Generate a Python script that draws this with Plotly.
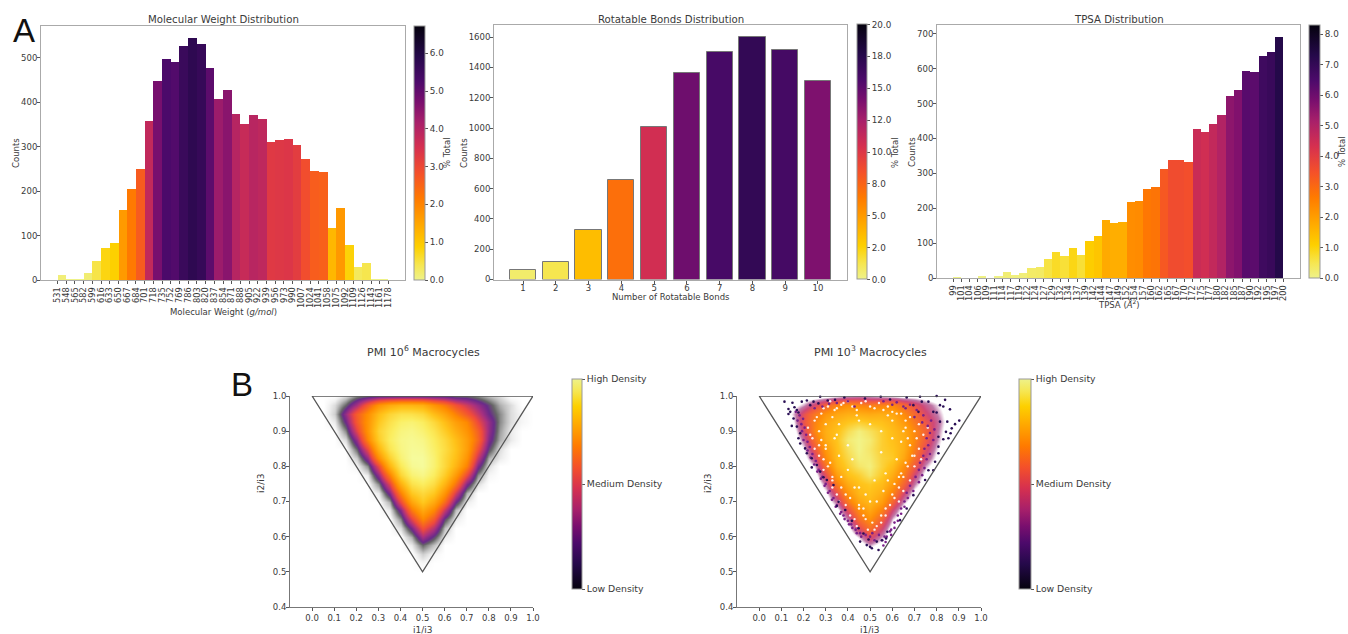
import plotly.graph_objects as go

W, H = 1348, 634
FONT = "DejaVu Sans"
INK = "#3a3a3a"

# ---------- Panel A data ----------
mw_labels = ["531","548","565","582","599","616","633","650","667","684","701","718","735","752","769","786","803","820","837","854","871","888","905","922","939","956","973","990","1007","1024","1041","1058","1075","1092","1109","1126","1143","1161","1178"]
mw_counts = [12,1,1,16,42,73,83,158,205,249,358,447,497,489,525,544,530,477,406,427,373,351,371,362,311,314,317,304,273,246,242,117,161,78,30,39,1,1]
mw_cbar_vals = [0,1,2,3,4,5,6]
mw_cbar_text = ["0.0","1.0","2.0","3.0","4.0","5.0","6.0"]

rb_labels = [1,2,3,4,5,6,7,8,9,10]
rb_counts = [60,115,325,655,1005,1365,1505,1600,1515,1310]
rb_cbar_vals = [0,2.5,5,7.5,10,12.5,15,17.5,20]
rb_cbar_text = ["0.0","2.0","5.0","8.0","10.0","12.0","15.0","18.0","20.0"]

tp_labels = ["99","101","104","106","109","111","114","117","119","122","124","127","129","132","134","137","139","142","144","147","149","152","154","157","160","162","165","167","170","172","175","177","180","182","185","187","190","192","195","197","200"]
tp_counts = [1,0,0,4,0,3,18,9,14,28,31,55,75,63,87,65,107,121,167,159,160,217,221,255,261,313,338,338,332,428,417,441,468,521,538,594,590,637,649,690]
tp_cbar_vals = [0,1,2,3,4,5,6,7,8]
tp_cbar_text = ["0.0","1.0","2.0","3.0","4.0","5.0","6.0","7.0","8.0"]

# ---------- Panel B data (density, 0-100) ----------
grid_x = [0,.05,.1,.15,.2,.25,.3,.35,.4,.45,.5,.55,.6,.65,.7,.75,.8,.85,.9,.95,1]
grid_y = [1,.975,.95,.925,.9,.875,.85,.825,.8,.775,.75,.725,.7,.675,.65,.625,.6,.575,.55,.525,.5]

dens_1e6 = [
 [0,0,0,3,8,10,12,12,12,12,12,12,12,10,10,8,5,3,0,0,0],
 [0,0,3,10,20,35,50,58,62,62,60,50,42,32,25,18,12,6,3,0,0],
 [0,0,4,18,35,48,65,76,82,82,78,66,56,44,34,24,14,8,3,1,0],
 [0,0,2,14,34,50,70,82,90,92,88,78,66,54,46,30,18,8,3,1,0],
 [0,0,0,8,28,50,75,86,94,96,92,84,72,60,50,36,18,7,2,0,0],
 [0,0,0,3,18,45,72,88,96,98,96,88,78,66,54,38,16,6,2,0,0],
 [0,0,0,0,10,30,62,84,95,99,98,90,80,68,54,32,12,3,0,0,0],
 [0,0,0,0,4,18,48,74,92,100,100,92,78,66,50,24,6,2,0,0,0],
 [0,0,0,0,1,8,30,62,86,98,100,92,78,62,44,16,3,0,0,0,0],
 [0,0,0,0,0,2,18,44,76,92,96,88,72,52,30,8,1,0,0,0,0],
 [0,0,0,0,0,0,8,28,60,82,88,80,62,40,16,3,0,0,0,0,0],
 [0,0,0,0,0,0,2,16,44,70,78,70,50,26,6,0,0,0,0,0,0],
 [0,0,0,0,0,0,0,6,30,56,70,58,38,14,2,0,0,0,0,0,0],
 [0,0,0,0,0,0,0,2,16,42,58,46,24,5,0,0,0,0,0,0,0],
 [0,0,0,0,0,0,0,0,8,28,46,34,12,2,0,0,0,0,0,0,0],
 [0,0,0,0,0,0,0,0,3,15,32,22,5,0,0,0,0,0,0,0,0],
 [0,0,0,0,0,0,0,0,0,6,20,12,2,0,0,0,0,0,0,0,0],
 [0,0,0,0,0,0,0,0,0,2,10,5,0,0,0,0,0,0,0,0,0],
 [0,0,0,0,0,0,0,0,0,0,4,1,0,0,0,0,0,0,0,0,0],
 [0,0,0,0,0,0,0,0,0,0,1,0,0,0,0,0,0,0,0,0,0],
 [0,0,0,0,0,0,0,0,0,0,0,0,0,0,0,0,0,0,0,0,0],
]
dens_1e3 = [
 [0,0,0,0,2,4,6,8,12,14,12,10,8,6,6,4,2,0,0,0,0],
 [0,0,0,6,14,26,38,50,56,52,48,50,52,40,30,20,12,4,0,0,0],
 [0,0,0,12,30,46,58,66,70,70,68,70,66,54,40,26,16,6,0,0,0],
 [0,0,0,8,32,50,66,74,80,84,80,78,72,60,46,32,20,6,0,0,0],
 [0,0,0,4,26,52,70,78,90,98,92,84,76,68,52,38,18,4,0,0,0],
 [0,0,0,0,18,44,68,80,96,100,96,84,78,70,52,34,16,2,0,0,0],
 [0,0,0,0,10,34,60,78,92,100,94,84,80,70,48,28,12,0,0,0,0],
 [0,0,0,0,5,24,54,76,88,98,96,86,82,66,42,22,8,0,0,0,0],
 [0,0,0,0,0,12,44,72,84,94,98,86,76,56,34,14,3,0,0,0,0],
 [0,0,0,0,0,5,30,62,78,84,94,82,68,48,24,6,0,0,0,0,0],
 [0,0,0,0,0,0,18,48,68,78,82,76,60,38,16,2,0,0,0,0,0],
 [0,0,0,0,0,0,8,32,58,74,78,70,50,26,6,0,0,0,0,0,0],
 [0,0,0,0,0,0,2,18,46,66,74,62,38,14,0,0,0,0,0,0,0],
 [0,0,0,0,0,0,0,6,30,54,66,50,24,4,0,0,0,0,0,0,0],
 [0,0,0,0,0,0,0,0,16,42,56,38,12,0,0,0,0,0,0,0,0],
 [0,0,0,0,0,0,0,0,6,28,44,26,4,0,0,0,0,0,0,0,0],
 [0,0,0,0,0,0,0,0,0,12,28,14,0,0,0,0,0,0,0,0,0],
 [0,0,0,0,0,0,0,0,0,3,14,6,0,0,0,0,0,0,0,0,0],
 [0,0,0,0,0,0,0,0,0,0,3,0,0,0,0,0,0,0,0,0,0],
 [0,0,0,0,0,0,0,0,0,0,0,0,0,0,0,0,0,0,0,0,0],
 [0,0,0,0,0,0,0,0,0,0,0,0,0,0,0,0,0,0,0,0,0],
]
# isolated outlying points of the 10^3 set
fringe_x = [.114,.150,.132,.140,.132,.155,.192,.215,.245,.275,.177,.170,.185,.177,.185,.207,.215,.237,.260,.237,.275,.290,.305,.335,.159,.170,.147,.230,.267,.309,.342,.384,.477,
            .548,.59,.665,.725,.80,.838,.815,.86,.83,.785,.763,.733,.902,.883,.848,.815,.868,.842,.863,.853,.83,.808,.808,.808,.793,.785,.763,.748,.80,.718,.695,
            .358,.35,.388,.418,.455,.493,.485,.50,.508,.538,.553,.572,.53,.578,.695,.665,.635,.448,.47]
fringe_y = [.984,.981,.963,.955,.949,.936,.984,.987,.984,.998,.953,.913,.894,.880,.865,.851,.837,.823,.804,.797,.785,.769,.761,.747,.968,.960,.915,.974,.979,.987,.989,.996,.993,
            .998,.99,.996,.998,1.0,.989,.974,.962,.970,.955,.984,.984,.930,.920,.927,.927,.908,.898,.894,.880,.877,.884,.856,.837,.813,.789,.789,.761,.953,.955,.974,
            .699,.687,.676,.645,.586,.592,.576,.571,.567,.562,.590,.595,.586,.614,.718,.680,.647,.624,.609]
# purple points on the rim of the 10^3 set
rim_x = [.165,.182,.173,.198,.19,.205,.193,.212,.2,.218,.228,.218,.24,.232,.255,.248,.268,.262,.285,.278,.3,.295,.318,.31,.335,.328,.35,.345,.37,.365,.385,.38,.405,.4,.42,.415,.44,.435,.46,.455,.48,.5,.52,.51,
         .25,.285,.315,.35,.4,.43,.56,.6,.62,.65,.68,.71,.74,.66,.7,.735,
         .775,.76,.79,.77,.755,.785,.762,.745,.77,.74,.755,.725,.745,.72,.735,.705,.72,.68,.695,.665,.67,.655,.655,.64,.64,.625,.625,.61,.61,.595,.595,.575,.59,.565,.57,.555,.56,.54]
rim_y = [.955,.945,.93,.935,.92,.91,.9,.89,.875,.87,.855,.845,.835,.825,.815,.805,.79,.785,.77,.765,.75,.745,.73,.725,.71,.705,.69,.685,.67,.665,.65,.66,.635,.645,.625,.635,.61,.62,.6,.61,.605,.6,.59,.61,
         .965,.97,.978,.98,.985,.97,.985,.975,.982,.97,.975,.96,.945,.965,.94,.925,
         .93,.915,.905,.895,.88,.875,.86,.85,.835,.83,.82,.81,.795,.79,.775,.77,.755,.745,.73,.725,.71,.7,.685,.68,.665,.66,.645,.64,.625,.62,.605,.6,.615,.6,.585,.59,.575,.605]
# white specks between the points of the 10^3 set
gap_x = [.25,.28,.31,.34,.37,.24,.27,.3,.33,.27,.3,.34,.29,.32,.36,.33,.37,.4,.36,.39,.43,.41,.45,.44,.48,.52,.47,.5,.55,.53,.57,.56,.6,.63,.58,.61,.65,.64,.68,.62,.66,.7,.6,.64,.68,.72,.7,.66,.62,.58,.54,.5,.46,.42,.38,.35,.45,.5,.55,.6,.65,.4,.45,.52,.57,.42,.48,.55,.3,.33,.63,.67,
         .22,.26,.29,.32,.35,.4,.44,.48,.52,.56,.6,.64,.68,.72,.74,.76,.71,.69,.67,.65,.63,.61,.59,.57,.55,.53,.51,.49,.47,.45,.43,.41,.39,.37,.35,.33,.31,.29,.27,.25,.23,.28,.36,.44,.58,.66,.7,.73]
gap_y = [.93,.95,.97,.96,.975,.88,.9,.92,.94,.83,.85,.88,.79,.81,.83,.74,.77,.79,.7,.72,.74,.66,.69,.63,.65,.62,.68,.7,.66,.7,.68,.73,.72,.7,.76,.75,.73,.78,.76,.82,.81,.8,.88,.87,.86,.85,.9,.93,.95,.97,.98,.97,.98,.97,.98,.89,.93,.92,.9,.93,.9,.86,.74,.76,.78,.82,.72,.84,.86,.76,.77,.88,
         .91,.94,.965,.985,.965,.985,.96,.985,.965,.96,.955,.95,.94,.92,.89,.91,.88,.83,.8,.77,.74,.71,.69,.66,.64,.63,.64,.62,.66,.68,.65,.71,.69,.74,.72,.77,.8,.82,.86,.85,.89,.875,.92,.945,.945,.91,.83,.82]

tri_x = [0,0.5,1,0]
tri_y = [1,0.5,1,1]
pmi_ticks_x = [0,.1,.2,.3,.4,.5,.6,.7,.8,.9,1]
pmi_ticks_y = [.4,.5,.6,.7,.8,.9,1]
dens_ticks = [0,50,100]
dens_text = ["Low Density","Medium Density","High Density"]

# colour ramp as it appears on the reference colour bars, pale (0) to black (1)
ramp = [[0,"#eef28a"],[.06,"#f6e650"],[.13,"#fdd000"],[.2,"#ffb000"],[.32,"#ff7a00"],[.42,"#f4502a"],[.52,"#d6304f"],
        [.62,"#a8206a"],[.7,"#7a0f6e"],[.78,"#4d0a6b"],[.88,"#25094a"],[1,"#05020e"]]
ramp_up = [[round(1 - t, 3), c] for t, c in reversed(ramp)]

scale_1e6 = [[0,"#ffffff"],[.015,"#f2f2f2"],[.05,"#c0c0c0"],[.1,"#666666"],[.135,"#6a2a8a"],[.2,"#a83080"],[.3,"#f04a3c"],[.46,"#ff8a00"],[.68,"#ffc41a"],[.88,"#fbee60"],[1,"#f6fb9c"]]
scale_1e3 = [[0,"#ffffff"],[.1,"#ffffff"],[.16,"#c078a8"],[.24,"#d04878"],[.34,"#f25a40"],[.55,"#ff8f08"],[.8,"#ffc51c"],[1,"#f2f488"]]

# ---------- helpers ----------
def fx(p): return p / W
def fy(p): return 1 - p / H
def pct(vals):
    t = sum(vals)
    return [100 * v / t for v in vals]

fig = go.Figure()
tick = dict(family=FONT, size=8.5, color=INK)
xrot = dict(family=FONT, size=8.2, color=INK)

def cbar(x0, x1, y0, y1, vals, text, size=8.8):
    return dict(x=fx(x0), xanchor="left", xref="paper", y=fy(y1), yanchor="bottom", yref="paper",
                len=(y1 - y0) / H, lenmode="fraction", thickness=x1 - x0, thicknessmode="pixels",
                xpad=0, ypad=0, outlinecolor="#999", outlinewidth=1, ticks="outside", ticklen=3,
                tickcolor="#555", tickvals=vals, ticktext=text, tickfont=dict(family=FONT, size=size, color=INK))

def axes(n, x0, x1, y0, y1, xr, yr, xt, yt, line, mirror, xang=None, ydt=None, xfont=tick, xstand=0):
    s = "" if n == 1 else str(n)
    fig.layout["xaxis" + s] = dict(domain=[fx(x0), fx(x1)], range=xr, anchor="y" + s, showgrid=False, zeroline=False,
        showline=True, linecolor=line, linewidth=1, mirror=mirror, ticks="outside", ticklen=3, tickcolor="#555",
        tickmode="array", tickvals=xt[0], ticktext=xt[1], tickangle=xang, tickfont=xfont, ticklabelstandoff=xstand)
    fig.layout["yaxis" + s] = dict(domain=[fy(y1), fy(y0)], range=yr, anchor="x" + s, showgrid=False, zeroline=False,
        showline=True, linecolor=line, linewidth=1, mirror=mirror, ticks="outside", ticklen=3, tickcolor="#555",
        tickmode="array", tickvals=yt, ticktext=[ydt.format(v) for v in yt] if ydt else yt, tickfont=tick,
        ticklabelstandoff=-2)

# ---------- Panel A bars ----------
fig.add_bar(x=list(range(len(mw_counts))), y=mw_counts, offset=0, width=1, xaxis="x", yaxis="y",
            marker=dict(color=pct(mw_counts), coloraxis="coloraxis", line_width=0), showlegend=False)
fig.add_bar(x=rb_labels, y=rb_counts, width=0.8, xaxis="x2", yaxis="y2",
            marker=dict(color=pct(rb_counts), coloraxis="coloraxis2", line=dict(width=1, color="#777")), showlegend=False)
fig.add_bar(x=list(range(len(tp_counts))), y=tp_counts, offset=0, width=1, xaxis="x3", yaxis="y3",
            marker=dict(color=pct(tp_counts), coloraxis="coloraxis3", line_width=0), showlegend=False)

axes(1, 41, 405, 26, 280, [-1.9, 39.9], [0, 571], (list(range(len(mw_labels))), mw_labels), [0,100,200,300,400,500],
     "#aaa", True, xang=-90, xfont=xrot)
axes(2, 494, 847, 25, 279.5, [0.115, 10.885], [0, 1680], (rb_labels, rb_labels), [0,200,400,600,800,1000,1200,1400,1600],
     "#aaa", True, xstand=-3)
axes(3, 937, 1300, 25, 278, [-1.95, 42], [0, 725], (list(range(len(tp_labels))), tp_labels), [0,100,200,300,400,500,600,700],
     "#aaa", True, xang=-90, xfont=xrot)

fig.update_layout(
    coloraxis=dict(colorscale=ramp, cmin=0, cmax=6.72, colorbar=cbar(414, 425, 26, 280, mw_cbar_vals, mw_cbar_text)),
    coloraxis2=dict(colorscale=ramp, cmin=0, cmax=20, colorbar=cbar(857, 867, 25, 279.5, rb_cbar_vals, rb_cbar_text)),
    coloraxis3=dict(colorscale=ramp, cmin=0, cmax=8.3, colorbar=cbar(1309, 1320, 25, 278, tp_cbar_vals, tp_cbar_text)),
)

# ---------- Panel B ----------
fig.add_heatmap(x=grid_x, y=grid_y, z=dens_1e6, zsmooth="best", xaxis="x4", yaxis="y4", coloraxis="coloraxis4")
fig.add_heatmap(x=grid_x, y=grid_y, z=dens_1e3, zsmooth="best", xaxis="x5", yaxis="y5", coloraxis="coloraxis5")
fig.add_scatter(x=gap_x, y=gap_y, mode="markers", xaxis="x5", yaxis="y5", showlegend=False,
                marker=dict(size=2.4, color="rgba(255,255,255,0.9)", line_width=0))
fig.add_scatter(x=rim_x, y=rim_y, mode="markers", xaxis="x5", yaxis="y5", showlegend=False, cliponaxis=False,
                marker=dict(size=2.6, color="#7a2088", line_width=0))
fig.add_scatter(x=fringe_x, y=fringe_y, mode="markers", xaxis="x5", yaxis="y5", showlegend=False, cliponaxis=False,
                marker=dict(size=2.6, color="#2a0f55", line_width=0))
for xa, ya in (("x4", "y4"), ("x5", "y5")):
    fig.add_scatter(x=tri_x, y=tri_y, mode="lines", xaxis=xa, yaxis=ya, showlegend=False, cliponaxis=False,
                    line=dict(color="#555", width=1.3))

# colorbars of the density panels
fig.add_scatter(x=[None], y=[None], mode="markers", xaxis="x4", yaxis="y4", showlegend=False,
                marker=dict(color=[0], coloraxis="coloraxis6"))
fig.add_scatter(x=[None], y=[None], mode="markers", xaxis="x5", yaxis="y5", showlegend=False,
                marker=dict(color=[0], coloraxis="coloraxis7"))

pmi_text = ["{:.1f}".format(v) for v in pmi_ticks_x]
axes(4, 290, 533, 396, 607, [-0.1, 1.0], [0.4, 1.0], (pmi_ticks_x, pmi_text), pmi_ticks_y, "#777", False, ydt="{:.1f}")
axes(5, 737, 981, 396, 607, [-0.1, 1.0], [0.4, 1.0], (pmi_ticks_x, pmi_text), pmi_ticks_y, "#777", False, ydt="{:.1f}")

fig.update_layout(
    coloraxis4=dict(colorscale=scale_1e6, cmin=0, cmax=100, showscale=False),
    coloraxis5=dict(colorscale=scale_1e3, cmin=0, cmax=100, showscale=False),
    coloraxis6=dict(colorscale=ramp_up, cmin=0, cmax=100, colorbar=cbar(572, 582, 379, 589, dens_ticks, dens_text, size=9.3)),
    coloraxis7=dict(colorscale=ramp_up, cmin=0, cmax=100, colorbar=cbar(1019, 1031, 379, 589, dens_ticks, dens_text, size=9.3)),
)

# ---------- text ----------
def note(text, x, y, size=8.5, angle=0, family=FONT, color=INK):
    fig.add_annotation(text=text, x=fx(x), y=fy(y), xref="paper", yref="paper", showarrow=False, textangle=angle,
                       xanchor="center", yanchor="middle", font=dict(family=family, size=size, color=color))

note("Molecular Weight Distribution", 223, 19.5, size=10.2)
note("Rotatable Bonds Distribution", 671, 19, size=10.2)
note("TPSA Distribution", 1119, 19, size=10.2)
note("PMI 10<sup>6</sup> Macrocycles", 423, 351, size=11)
note("PMI 10<sup>3</sup> Macrocycles", 870, 351, size=11)
note("Molecular Weight (<i>g/mol</i>)", 223, 312)
note("Number of Rotatable Bonds", 671, 297)
note("TPSA (<i>Å</i><sup>2</sup>)", 1119, 304)
note("Counts", 16, 153, angle=-90)
note("Counts", 464, 153, angle=-90)
note("Counts", 912, 152, angle=-90)
note("% Total", 447, 153, angle=-90)
note("% Total", 895, 153, angle=-90)
note("% Total", 1342, 152, angle=-90)
note("i1/i3", 423, 630, size=9)
note("i1/i3", 870, 630, size=9)
note("i2/i3", 261, 483, size=9, angle=-90)
note("i2/i3", 708, 483, size=9, angle=-90)
note("A", 24, 30, size=33, family="Liberation Sans", color="#111")
note("B", 242, 384, size=33, family="Liberation Sans", color="#111")

fig.update_layout(width=W, height=H, margin=dict(l=0, r=0, t=0, b=0, autoexpand=False), paper_bgcolor="white", plot_bgcolor="white",
                  showlegend=False, bargap=0)

fig.write_html("out.html", config=dict(displayModeBar=False),
               post_script="document.body.style.margin='0';document.body.style.overflow='hidden';")
